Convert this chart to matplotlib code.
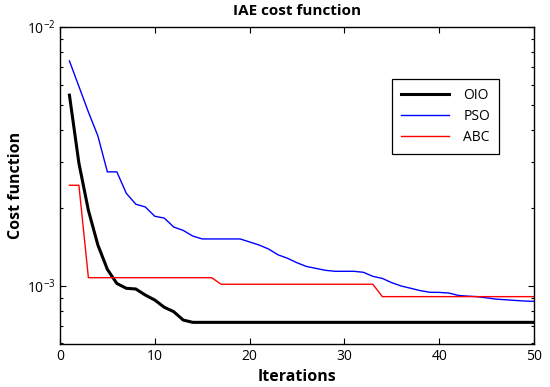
import matplotlib
matplotlib.use("Agg")
import matplotlib.pyplot as plt
import numpy as np

plt.rcParams['font.family'] = ['Open Sans', 'DejaVu Sans']
plt.rcParams['mathtext.fontset'] = 'custom'
plt.rcParams['mathtext.rm'] = 'Open Sans'

iterations = list(range(1, 51))

oio = [5.46e-3, 2.98e-3, 1.96e-3, 1.44e-3, 1.16e-3, 1.023e-3, 9.8e-4, 9.74e-4, 9.23e-4, 8.83e-4,
       8.28e-4, 7.96e-4, 7.39e-4] + [7.24e-4] * 37

pso = [7.4e-3, 5.9e-3, 4.7e-3, 3.8e-3, 2.76e-3, 2.76e-3, 2.28e-3, 2.07e-3, 2.02e-3, 1.86e-3,
       1.83e-3, 1.69e-3, 1.64e-3, 1.56e-3, 1.52e-3, 1.52e-3, 1.52e-3, 1.52e-3, 1.52e-3, 1.48e-3,
       1.44e-3, 1.39e-3, 1.32e-3, 1.28e-3, 1.23e-3, 1.19e-3, 1.17e-3, 1.15e-3, 1.14e-3, 1.14e-3,
       1.14e-3, 1.13e-3, 1.09e-3, 1.07e-3, 1.03e-3, 1.0e-3, 9.8e-4, 9.6e-4, 9.46e-4, 9.45e-4,
       9.4e-4, 9.2e-4, 9.14e-4, 9.1e-4, 9.0e-4, 8.9e-4, 8.85e-4, 8.8e-4, 8.75e-4, 8.73e-4]

abc = [2.45e-3] * 2 + [1.077e-3] * 14 + [1.016e-3] * 17 + [9.1e-4] * 17

labels = ["OIO", "PSO", "ABC"]

fig = plt.figure(figsize=(5.5, 3.87), dpi=100)
ax = fig.add_axes([0.109, 0.111, 0.862, 0.819])

ax.plot(iterations, oio, color='black', lw=2.2, label=labels[0])
ax.plot(iterations, pso, color='#0000ff', lw=1.0, label=labels[1])
ax.plot(iterations, abc, color='#ff0000', lw=1.0, label=labels[2])

ax.set_yscale('log')
ax.set_xlim(0, 50)
ax.set_ylim(5.97e-4, 1e-2)
ax.set_xticks([0, 10, 20, 30, 40, 50])
ax.set_yticks([1e-3, 1e-2])
ax.tick_params(which='both', direction='in', top=True, right=True, labelsize=10)
ax.tick_params(which='major', length=4, width=0.8)
ax.tick_params(which='minor', length=2.5, width=0.8)
for s in ax.spines.values():
    s.set_linewidth(1.0)

ax.set_title("IAE cost function", fontsize=11, fontweight='bold', pad=9)
ax.set_xlabel("Iterations", fontsize=11.5, fontweight='bold', labelpad=4)
ax.set_ylabel("Cost function", fontsize=11.5, fontweight='bold', labelpad=2)

leg = ax.legend(loc='upper left', bbox_to_anchor=(0.70, 0.837), borderaxespad=0,
                fancybox=False, edgecolor='black', framealpha=1, fontsize=10,
                handlelength=3.5, labelspacing=0.45, borderpad=0.65, handletextpad=1.0)
leg.get_frame().set_linewidth(0.9)

fig.savefig("out.png", dpi=100)
